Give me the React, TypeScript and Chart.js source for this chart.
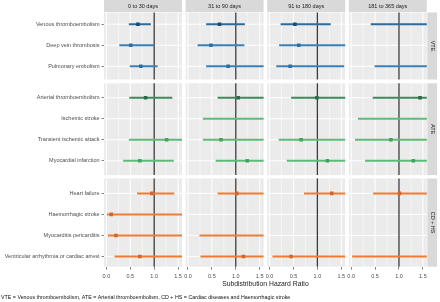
import React, { useEffect, useRef } from "react";
import { Chart, registerables } from "chart.js";
Chart.register(...registerables);

// ---------- data ----------
const periods = ["0 to 30 days", "31 to 90 days", "91 to 180 days", "181 to 365 days"];
const groupLabels = ["VTE", "ATE", "CD + HS"];
const outcomes = [
  "Venous thromboembolism",
  "Deep vein thrombosis",
  "Pulmonary embolism",
  "Arterial thromboembolism",
  "Ischemic stroke",
  "Transient ischemic attack",
  "Myocardial infarction",
  "Heart failure",
  "Haemorrhagic stroke",
  "Myocarditis pericarditis",
  "Ventricular arrhythmia or cardiac arrest",
];
const outcomeGroup = [0, 0, 0, 1, 1, 1, 1, 2, 2, 2, 2];
const outcomeStyle = [0, 1, 1, 2, 3, 3, 3, 4, 4, 4, 4];
const xTickValues = [0, 0.5, 1, 1.5];
const xMinorValues = [0.25, 0.75, 1.25];

const hr0to30 = [0.66, 0.51, 0.72, 0.82, null, 1.26, 0.7, 0.95, 0.1, 0.2, 0.7];
const lower0to30 = [0.47, 0.27, 0.49, 0.48, null, 0.47, 0.35, 0.64, 0.01, 0.03, 0.17];
const upper0to30 = [0.93, 1.0, 1.07, 1.38, null, 2.6, 1.41, 1.42, 2.8, 2.5, 2.4];

const hr31to90 = [0.66, 0.48, 0.84, 1.05, 1.9, 0.69, 1.24, 1.02, null, 2.0, 1.16];
const lower31to90 = [0.38, 0.2, 0.38, 0.62, 0.31, 0.31, 0.58, 0.62, null, 0.24, 0.26];
const upper31to90 = [1.19, 1.18, 1.85, 1.75, 7.5, 1.7, 2.6, 1.68, null, 9.0, 3.1];

const hr91to180 = [0.53, 0.61, 0.43, 0.99, null, 0.66, 1.21, 1.3, null, null, 0.45];
const lower91to180 = [0.23, 0.2, 0.14, 0.45, null, 0.19, 0.36, 0.72, null, null, 0.06];
const upper91to180 = [1.28, 1.8, 1.56, 2.1, null, 2.3, 4.0, 2.3, null, null, 3.4];

const hr181to365 = [1.7, null, 1.8, 1.44, 2.0, 0.83, 1.3, 1.01, null, null, 1.9];
const lower181to365 = [0.41, null, 0.49, 0.45, 0.14, 0.08, 0.29, 0.46, null, null, 0.02];
const upper181to365 = [7.0, null, 6.5, 4.6, 28, 8.7, 5.8, 2.2, null, null, 9.0];

const estimates = [hr0to30, hr31to90, hr91to180, hr181to365];
const lowers = [lower0to30, lower31to90, lower91to180, lower181to365];
const uppers = [upper0to30, upper31to90, upper91to180, upper181to365];

const footnote =
  "VTE = Venous thromboembolism, ATE = Arterial thromboembolism, CD + HS = Cardiac diseases and Haemorrhagic stroke";

// ---------- styles / layout ----------
const lineColors = ["#2d6b9c", "#3a80b6", "#3f8a5e", "#5dbb78", "#ee7d33"];
const pointColors = ["#1a4a74", "#2c6da2", "#2a6c47", "#3fa45f", "#d9622a"];
const FONT = "'Liberation Sans', Arial, sans-serif";
const X_MIN = -0.05;
const PANEL_SPAN = 1.632;
const PANEL_PITCH = 1.707;
const groupTop = [0, 3.37, 7.9];
const groupBottom = [3.19, 7.74, 12.1];
const groupFirst = [0.56, 0.69, 0.71];
const Y_MAX = 12.1;

function itemY(i: number): number {
  const g = outcomeGroup[i];
  const first = outcomeGroup.indexOf(g);
  return groupTop[g] + groupFirst[g] + (i - first);
}

function buildDatasets() {
  const ds: any[] = [];
  estimates.forEach((est, p) => {
    const off = p * PANEL_PITCH;
    est.forEach((e, i) => {
      if (e == null) return;
      const lo = lowers[p][i] as number;
      const hi = uppers[p][i] as number;
      const y = itemY(i);
      const s = outcomeStyle[i];
      ds.push({
        type: "scatter",
        panel: p,
        group: outcomeGroup[i],
        data: [
          { x: lo + off, y },
          { x: (e as number) + off, y },
          { x: hi + off, y },
        ],
        showLine: true,
        borderColor: lineColors[s],
        borderWidth: 2,
        pointStyle: "rect",
        pointRadius: (c: any) => (c.dataIndex === 1 ? 2.5 : 0),
        pointHoverRadius: 0,
        pointBackgroundColor: pointColors[s],
        pointBorderColor: pointColors[s],
        pointBorderWidth: 0,
        clip: false,
      });
    });
  });
  return ds;
}

const panelPlugin = {
  id: "panels",
  beforeDatasetsDraw(chart: any) {
    const { ctx, scales, chartArea } = chart;
    const x = scales.x;
    const y = scales.y;
    ctx.save();
    for (let p = 0; p < periods.length; p++) {
      const off = p * PANEL_PITCH;
      const l = x.getPixelForValue(off + X_MIN);
      const r = x.getPixelForValue(off + X_MIN + PANEL_SPAN);
      for (let g = 0; g < groupLabels.length; g++) {
        const t = y.getPixelForValue(groupTop[g]);
        const b = y.getPixelForValue(groupBottom[g]);
        ctx.fillStyle = "#ebebeb";
        ctx.fillRect(l, t, r - l, b - t);
        ctx.strokeStyle = "#ffffff";
        ctx.lineWidth = 0.5;
        xMinorValues.forEach((v) => {
          const px = x.getPixelForValue(off + v);
          ctx.beginPath();
          ctx.moveTo(px, t);
          ctx.lineTo(px, b);
          ctx.stroke();
        });
        ctx.lineWidth = 1;
        xTickValues.forEach((v) => {
          const px = x.getPixelForValue(off + v);
          ctx.beginPath();
          ctx.moveTo(px, t);
          ctx.lineTo(px, b);
          ctx.stroke();
        });
        outcomes.forEach((_, i) => {
          if (outcomeGroup[i] !== g) return;
          const py = y.getPixelForValue(itemY(i));
          ctx.beginPath();
          ctx.moveTo(l, py);
          ctx.lineTo(r, py);
          ctx.stroke();
        });
        const v1 = x.getPixelForValue(off + 1);
        ctx.strokeStyle = "#3a3a3a";
        ctx.lineWidth = 1.3;
        ctx.beginPath();
        ctx.moveTo(v1, t);
        ctx.lineTo(v1, b);
        ctx.stroke();
      }
      // top strip
      ctx.fillStyle = "#d9d9d9";
      ctx.fillRect(l, 0, r - l, chartArea.top - 0.5);
      ctx.fillStyle = "#1a1a1a";
      ctx.font = `5.5px ${FONT}`;
      ctx.textAlign = "center";
      ctx.textBaseline = "middle";
      ctx.fillText(periods[p], (l + r) / 2, (chartArea.top - 0.5) / 2 + 0.3);
    }
    // right strips
    for (let g = 0; g < groupLabels.length; g++) {
      const t = y.getPixelForValue(groupTop[g]);
      const b = y.getPixelForValue(groupBottom[g]);
      const l = chartArea.right + 0.5;
      const w = 9.8;
      ctx.fillStyle = "#d9d9d9";
      ctx.fillRect(l, t, w, b - t);
      ctx.save();
      ctx.translate(l + w / 2, (t + b) / 2);
      ctx.rotate(Math.PI / 2);
      ctx.fillStyle = "#1a1a1a";
      ctx.font = `5.5px ${FONT}`;
      ctx.textAlign = "center";
      ctx.textBaseline = "middle";
      ctx.fillText(groupLabels[g], 0, 0);
      ctx.restore();
    }
    ctx.restore();
  },
  beforeDatasetDraw(chart: any, args: any) {
    const { ctx, scales } = chart;
    const ds = chart.data.datasets[args.index];
    const off = ds.panel * PANEL_PITCH;
    const l = scales.x.getPixelForValue(off + X_MIN);
    const r = scales.x.getPixelForValue(off + X_MIN + PANEL_SPAN);
    const t = scales.y.getPixelForValue(groupTop[ds.group]);
    const b = scales.y.getPixelForValue(groupBottom[ds.group]);
    ctx.save();
    ctx.beginPath();
    ctx.rect(l, t, r - l, b - t);
    ctx.clip();
  },
  afterDatasetDraw(chart: any) {
    chart.ctx.restore();
  },
  afterDraw(chart: any) {
    const { ctx } = chart;
    ctx.save();
    ctx.font = `10px ${FONT}`;
    const w = ctx.measureText(footnote).width;
    const size = (10 * 290) / w;
    ctx.font = `${size}px ${FONT}`;
    ctx.fillStyle = "#111111";
    ctx.textAlign = "left";
    ctx.textBaseline = "middle";
    ctx.fillText(footnote, 1, 298);
    ctx.restore();
  },
};

export default function App() {
  const ref = useRef<HTMLCanvasElement | null>(null);
  useEffect(() => {
    if (!ref.current) return;
    const xMax = (periods.length - 1) * PANEL_PITCH + X_MIN + PANEL_SPAN;
    const chart = new Chart(ref.current, {
      type: "scatter",
      data: { datasets: buildDatasets() },
      options: {
        animation: false,
        responsive: false,
        events: [],
        layout: { padding: { left: 0, right: 13.2, top: 12.5, bottom: 0 } },
        plugins: { legend: { display: false }, tooltip: { enabled: false } },
        scales: {
          x: {
            type: "linear",
            min: X_MIN,
            max: xMax,
            afterBuildTicks: (scale: any) => {
              const t: any[] = [];
              periods.forEach((_, p) =>
                xTickValues.forEach((v) => t.push({ value: p * PANEL_PITCH + v }))
              );
              scale.ticks = t;
            },
            afterFit: (scale: any) => {
              scale.height = 35.3;
            },
            ticks: {
              autoSkip: false,
              maxRotation: 0,
              padding: 3,
              color: "#4d4d4d",
              font: { family: FONT, size: 5.5 },
              callback: (value: any) => {
                const v = Number(value);
                const p = Math.floor((v - X_MIN) / PANEL_PITCH);
                return (v - p * PANEL_PITCH).toFixed(1);
              },
            },
            grid: { drawOnChartArea: false, drawTicks: true, tickLength: 3, color: "#333333", lineWidth: 0.6 },
            border: { display: false },
            title: {
              display: true,
              text: "Subdistribution Hazard Ratio",
              color: "#222222",
              font: { family: FONT, size: 6.8 },
              padding: { top: 0, bottom: 14 },
            },
          },
          y: {
            type: "linear",
            reverse: true,
            min: 0,
            max: Y_MAX,
            afterBuildTicks: (scale: any) => {
              scale.ticks = outcomes.map((_, i) => ({ value: itemY(i) }));
            },
            afterFit: (scale: any) => {
              scale.width = 104;
            },
            ticks: {
              autoSkip: false,
              padding: 2,
              color: "#4d4d4d",
              font: { family: FONT, size: 5.5 },
              callback: (value: any) => {
                const v = Number(value);
                const i = outcomes.findIndex((_, k) => Math.abs(itemY(k) - v) < 1e-6);
                return i >= 0 ? outcomes[i] : "";
              },
            },
            grid: { drawOnChartArea: false, drawTicks: true, tickLength: 2.5, color: "#333333", lineWidth: 0.6 },
            border: { display: false },
          },
        },
      },
      plugins: [panelPlugin],
    } as any);
    return () => chart.destroy();
  }, []);
  return (
    <div style={{ position: "fixed", left: 0, top: 0, width: 440, height: 302, background: "#ffffff" }}>
      <canvas ref={ref} width={440} height={302} style={{ display: "block", width: 440, height: 302 }} />
    </div>
  );
}
